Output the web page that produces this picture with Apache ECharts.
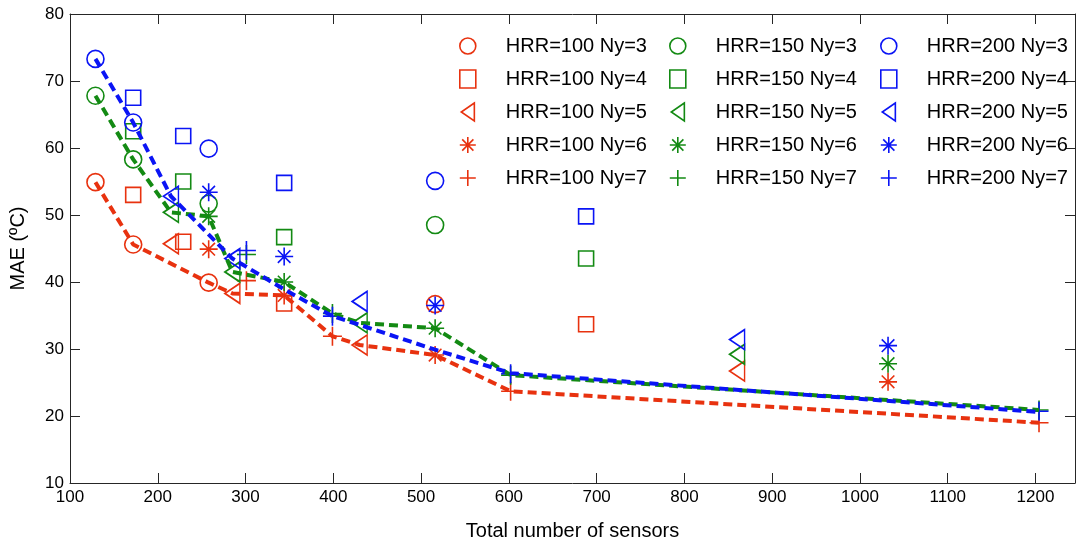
<!DOCTYPE html>
<html>
<head>
<meta charset="utf-8">
<script src="https://cdn.jsdelivr.net/npm/echarts@6/dist/echarts.min.js"></script>
<style>
  html, body { margin: 0; padding: 0; background: #fff; }
  #chart { width: 1078px; height: 546px; }
</style>
</head>
<body>
<div id="chart"></div>
<script>
  // sensor counts for each Ny
  const xNy3 = [129, 172, 258, 516]
  const xNy4 = [172, 229, 344, 688]
  const xNy5 = [215, 285, 430, 860]
  const xNy6 = [258, 344, 516, 1032]
  const xNy7 = [301, 399, 602, 1204]

  // MAE, HRR=100
  const mae100Ny3 = [54.9, 45.6, 39.9, 36.7]
  const mae100Ny4 = [53.0, 46.0, 36.8, 33.7]
  const mae100Ny5 = [45.7, 38.3, 30.6, 26.7]
  const mae100Ny6 = [44.9, 38.0, 29.1, 25.1]
  const mae100Ny7 = [40.2, 31.9, 23.7, 19.0]
  // MAE, HRR=150
  const mae150Ny3 = [67.8, 58.3, 51.7, 48.5]
  const mae150Ny4 = [62.5, 55.0, 46.7, 43.5]
  const mae150Ny5 = [50.4, 41.5, 33.9, 29.2]
  const mae150Ny6 = [49.8, 40.0, 33.1, 27.8]
  const mae150Ny7 = [44.1, 35.3, 26.1, 20.9]
  // MAE, HRR=200
  const mae200Ny3 = [73.3, 63.8, 59.9, 55.1]
  const mae200Ny4 = [67.5, 61.8, 54.8, 49.8]
  const mae200Ny5 = [52.8, 43.5, 37.1, 31.4]
  const mae200Ny6 = [53.4, 43.8, 36.5, 30.5]
  const mae200Ny7 = [44.7, 34.9, 26.3, 20.7]

  // dashed trend lines
  const lineX100 = [129, 172, 258, 285, 344, 399, 430, 516, 602, 1204]
  const lineY100 = [54.9, 45.6, 39.9, 38.3, 38.0, 31.9, 30.6, 29.1, 23.7, 19.0]
  const lineX150 = [129, 172, 215, 258, 285, 344, 399, 430, 516, 602, 1204]
  const lineY150 = [67.8, 58.3, 50.4, 49.8, 41.5, 40.0, 35.3, 33.9, 33.1, 26.1, 20.9]
  const lineX200 = [129, 172, 215, 285, 344, 399, 430, 516, 602, 1204]
  const lineY200 = [73.3, 63.8, 52.8, 43.5, 38.9, 34.9, 33.6, 29.9, 26.4, 20.6]

  const hrrList = ['100', '150', '200']
  const nyList = ['3', '4', '5', '6', '7']

  const colors = { '100': '#e8320f', '150': '#138a13', '200': '#0a14f5' }
  const xByNy = { '3': xNy3, '4': xNy4, '5': xNy5, '6': xNy6, '7': xNy7 }
  const maeTable = {
    '100': [mae100Ny3, mae100Ny4, mae100Ny5, mae100Ny6, mae100Ny7],
    '150': [mae150Ny3, mae150Ny4, mae150Ny5, mae150Ny6, mae150Ny7],
    '200': [mae200Ny3, mae200Ny4, mae200Ny5, mae200Ny6, mae200Ny7]
  }
  // marker per Ny (matlab o s < * +)
  const markers = {
    '3': { symbol: 'circle', size: 17 },
    '4': { symbol: 'rect', size: 15 },
    '5': { symbol: 'path://M8,-11L-8,0L8,11Z', size: [15, 20] },
    '6': { symbol: 'path://M0,-10L0,10M-10,0L10,0M-7,-7L7,7M-7,7L7,-7', size: 18 },
    '7': { symbol: 'path://M0,-10L0,10M-10,0L10,0', size: 19 }
  }

  const zip = (xs, ys) => xs.map((x, i) => [x, ys[i]])

  const series = []
  hrrList.forEach(h => {
    nyList.forEach((n, j) => {
      const m = markers[n]
      series.push({
        name: 'HRR=' + h + ' Ny=' + n,
        type: 'scatter',
        symbol: m.symbol,
        symbolSize: m.size,
        itemStyle: { color: 'rgba(0,0,0,0)', borderColor: colors[h], borderWidth: 1.6, opacity: 1 },
        data: zip(xByNy[n], maeTable[h][j])
      })
    })
  })

  const lines = [[lineX100, lineY100, '100'], [lineX150, lineY150, '150'], [lineX200, lineY200, '200']]
  lines.forEach(l => {
    series.push({
      type: 'line',
      symbol: 'none',
      silent: true,
      lineStyle: { color: colors[l[2]], width: 4, type: [9, 5] },
      data: zip(l[0], l[1])
    })
  })

  const legendCol = (h, left) => ({
    orient: 'vertical',
    left: left,
    top: 36,
    padding: 0,
    itemWidth: 16,
    itemHeight: 18,
    itemGap: 13,
    itemStyle: { borderWidth: 1.6 },
    textStyle: { fontFamily: 'Liberation Sans', fontSize: 20, color: '#000', padding: [0, 0, 0, 25] },
    data: nyList.map(n => 'HRR=' + h + ' Ny=' + n)
  })

  const axisLineStyle = { lineStyle: { color: '#262626', width: 1 } }
  const tickStyle = { show: true, inside: true, length: 10, lineStyle: { color: '#262626' } }
  const labelStyle = { fontFamily: 'Liberation Sans', fontSize: 17, color: '#000' }

  const myChart = echarts.init(document.getElementById('chart'))
  myChart.setOption({
    animation: false,
    backgroundColor: '#fff',
    grid: { left: 66, right: 3, top: 14, bottom: 60 },
    legend: [legendCol('100', 459), legendCol('150', 669), legendCol('200', 880)],
    xAxis: [{
      type: 'value',
      min: 100,
      max: 1245,
      interval: 100,
      name: 'Total number of sensors',
      nameLocation: 'middle',
      nameGap: 38,
      nameTextStyle: { fontFamily: 'Liberation Sans', fontSize: 20, color: '#000' },
      axisLine: axisLineStyle,
      axisTick: tickStyle,
      splitLine: { show: false },
      axisLabel: Object.assign({ margin: 6, showMaxLabel: false, formatter: v => String(v) }, labelStyle)
    }, {
      type: 'value',
      position: 'top',
      min: 100,
      max: 1245,
      interval: 100,
      axisLine: axisLineStyle,
      axisTick: tickStyle,
      splitLine: { show: false },
      axisLabel: { show: false }
    }],
    yAxis: [{
      type: 'value',
      min: 10,
      max: 80,
      interval: 10,
      name: 'MAE (ºC)',
      nameLocation: 'middle',
      nameGap: 42,
      nameTextStyle: { fontFamily: 'Liberation Sans', fontSize: 20, color: '#000' },
      axisLine: { show: true, lineStyle: { color: '#262626', width: 1 } },
      axisTick: tickStyle,
      splitLine: { show: false },
      axisLabel: Object.assign({ margin: 6 }, labelStyle)
    }, {
      type: 'value',
      position: 'right',
      min: 10,
      max: 80,
      interval: 10,
      axisLine: { show: true, lineStyle: { color: '#262626', width: 1 } },
      axisTick: tickStyle,
      splitLine: { show: false },
      axisLabel: { show: false }
    }],
    series: series
  })
</script>
</body>
</html>
